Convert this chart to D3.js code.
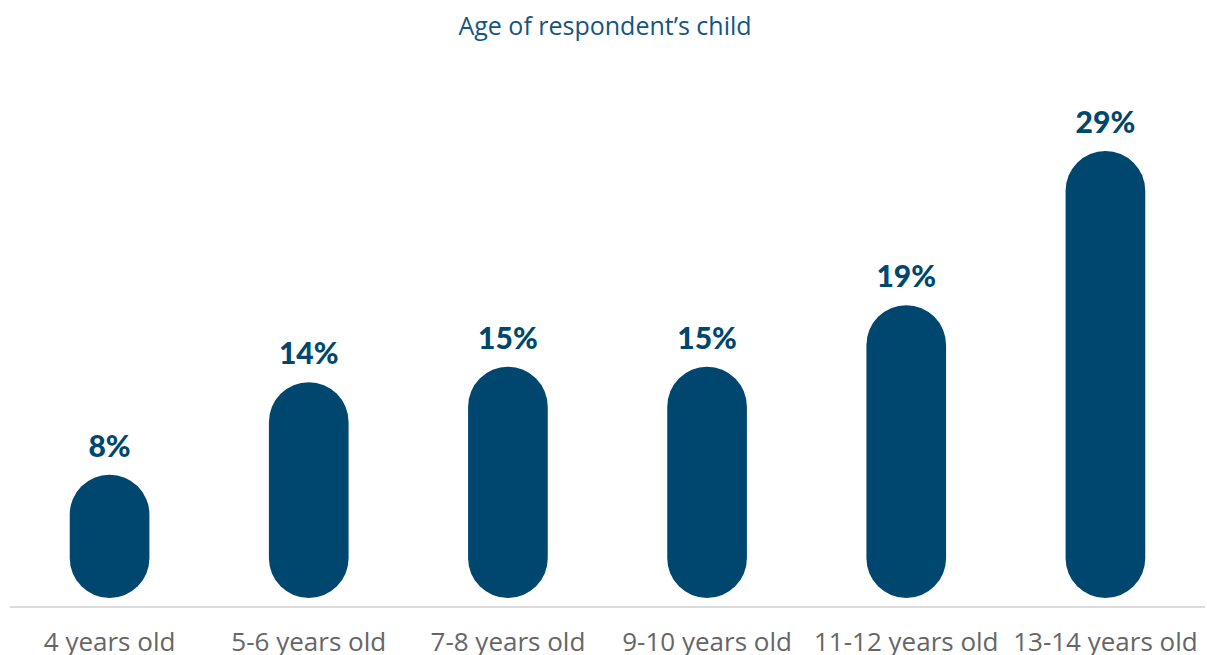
<!DOCTYPE html>
<html>
<head>
<meta charset="utf-8">
<script src="https://cdn.jsdelivr.net/npm/d3@7"></script>
<style>
  html, body { margin: 0; padding: 0; background: #ffffff; }
  svg { display: block; }
</style>
</head>
<body>
<svg id="chart" width="1207" height="655"></svg>
<script>
// Share of respondents by age of their child
const categories = ["4 years old", "5-6 years old", "7-8 years old", "9-10 years old", "11-12 years old", "13-14 years old"];
const values = [8, 14, 15, 15, 19, 29];
const chartTitle = "Age of respondent\u2019s child";

const width = 1207, height = 655;
const svg = d3.select("#chart");

const barColor = "#00476f";
const labelColor = "#00476f";

const x = d3.scaleBand()
  .domain(categories)
  .range([10, 1205])
  .paddingInner(0.6)
  .paddingOuter(0.3);

const y = d3.scaleLinear()
  .domain([0, 29])
  .range([598, 151]);

// Title
svg.append("text")
  .attr("x", 605)
  .attr("y", 35)
  .attr("text-anchor", "middle")
  .attr("font-family", "'Open Sans', sans-serif")
  .attr("font-size", 25)
  .attr("fill", "#14557f")
  .text(chartTitle);

// Baseline
svg.append("line")
  .attr("x1", 10).attr("x2", 1205)
  .attr("y1", 607).attr("y2", 607)
  .attr("stroke", "#dcdcdc")
  .attr("stroke-width", 2);

// Pill-shaped bars
const bw = x.bandwidth();
svg.selectAll("rect.bar")
  .data(values)
  .join("rect")
  .attr("class", "bar")
  .attr("x", (d, i) => x(categories[i]))
  .attr("y", d => y(d))
  .attr("width", bw)
  .attr("height", d => y(0) - y(d))
  .attr("rx", bw / 2)
  .attr("ry", bw / 2)
  .attr("fill", barColor);

// Value labels
svg.selectAll("text.value")
  .data(values)
  .join("text")
  .attr("class", "value")
  .attr("x", (d, i) => x(categories[i]) + bw / 2)
  .attr("y", d => y(d) - 18)
  .attr("text-anchor", "middle")
  .attr("font-family", "Lato, sans-serif")
  .attr("font-weight", 900)
  .attr("font-size", 30)
  .attr("fill", labelColor)
  .text(d => d + "%");

// Category labels
const xAxis = d3.axisBottom(x).tickSize(0).tickPadding(0);
const gx = svg.append("g")
  .attr("transform", "translate(0,651)")
  .call(xAxis);
gx.select(".domain").remove();
gx.selectAll("text")
  .attr("dy", "0")
  .attr("font-family", "'Open Sans', sans-serif")
  .attr("font-size", 26)
  .attr("fill", "#666666");
</script>
</body>
</html>
